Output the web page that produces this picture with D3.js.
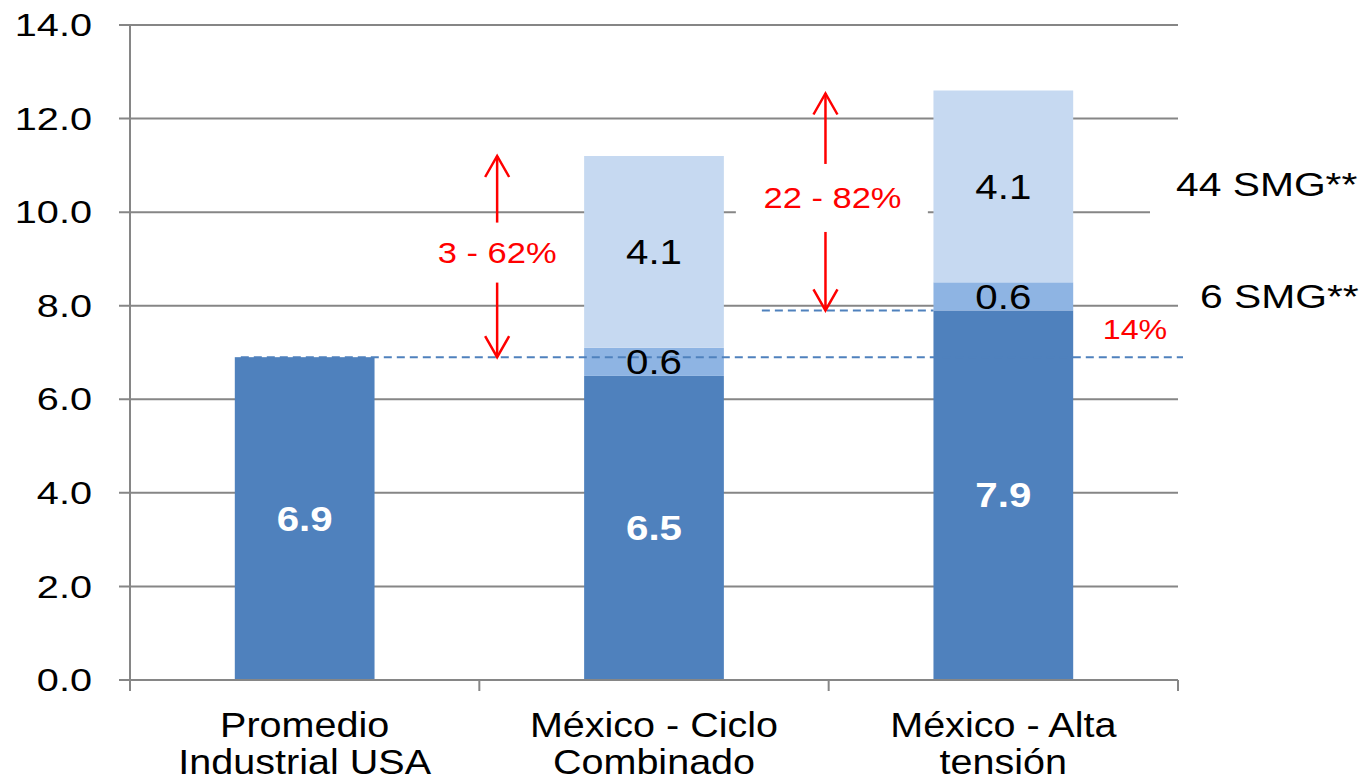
<!DOCTYPE html>
<html>
<head>
<meta charset="utf-8">
<script src="https://cdn.jsdelivr.net/npm/d3@7"></script>
<style>
  html, body { margin: 0; padding: 0; background: #fff; }
  svg { display: block; font-family: "Liberation Sans", Arial, sans-serif; }
</style>
</head>
<body>
<svg id="chart" width="1363" height="781"></svg>
<script>
// data
var categories = [["Promedio", "Industrial USA"], ["México - Ciclo", "Combinado"], ["México - Alta", "tensión"]];
var baseCost = [6.9, 6.5, 7.9];
var smg6Cost = [0, 0.6, 0.6];
var smg44Cost = [0, 4.1, 4.1];
var yTicks = [0, 2, 4, 6, 8, 10, 12, 14];
var rangeLabels = ["3 - 62%", "22 - 82%", "14%"];
var smgLabels = ["44 SMG**", "6 SMG**"];

var keys = ["base", "smg6", "smg44"];
var colors = { base: "#4F81BD", smg6: "#8EB4E3", smg44: "#C6D9F1" };
var rows = categories.map(function (c, i) {
  return { cat: i, base: baseCost[i], smg6: smg6Cost[i], smg44: smg44Cost[i] };
});

var svg = d3.select("#chart");
var plotL = 130, plotR = 1178, plotT = 25, plotB = 680;

var x = d3.scaleBand().domain(d3.range(categories.length)).range([plotL, plotR])
  .paddingInner(0.6).paddingOuter(0.3);
var step = x.step();
var y = d3.scaleLinear().domain([0, 14]).range([plotB, plotT]);

// text in the reference is stretched horizontally, so scale it a bit
function label(g, px, py, txt, anchor, sx) {
  return g.append("text")
    .attr("transform", "translate(" + px + "," + py + ") scale(" + (sx || 1.2) + ",1)")
    .attr("text-anchor", anchor || "middle")
    .attr("dy", "0.35em")
    .text(txt);
}

// gridlines
svg.append("g").selectAll("line").data(yTicks).join("line")
  .attr("x1", plotL - 11).attr("x2", plotR)
  .attr("y1", function (d) { return y(d); }).attr("y2", function (d) { return y(d); })
  .attr("stroke", "#868686").attr("stroke-width", 2);

// y axis line + labels
svg.append("line").attr("x1", plotL).attr("x2", plotL).attr("y1", plotT).attr("y2", plotB)
  .attr("stroke", "#868686").attr("stroke-width", 2);
var yl = svg.append("g").attr("font-size", 32).attr("fill", "#000");
yTicks.forEach(function (t) { label(yl, 92, y(t), d3.format(".1f")(t), "end", 1.24); });

// x axis ticks at band edges
var edges = d3.range(categories.length + 1).map(function (i) { return plotL + i * step; });
svg.append("g").selectAll("line").data(edges).join("line")
  .attr("x1", function (d) { return d; }).attr("x2", function (d) { return d; })
  .attr("y1", plotB).attr("y2", plotB + 11)
  .attr("stroke", "#868686").attr("stroke-width", 2);

// white boxes behind some annotations (they hide the gridlines)
var a2x = x(2) - 108;
svg.append("rect").attr("x", x(1) + x.bandwidth() + 12).attr("y", y(10) - 48)
  .attr("width", 192).attr("height", 62).attr("fill", "#fff");
svg.append("rect").attr("x", 1150).attr("y", y(10) - 30)
  .attr("width", 213).attr("height", 40).attr("fill", "#fff");

// stacked bars
var series = d3.stack().keys(keys)(rows);
var bars = svg.append("g");
series.forEach(function (s) {
  bars.selectAll(null).data(s).join("rect")
    .attr("x", function (d) { return x(d.data.cat); })
    .attr("width", x.bandwidth())
    .attr("y", function (d) { return y(d[1]); })
    .attr("height", function (d) { return y(d[0]) - y(d[1]); })
    .attr("fill", colors[s.key]);
});

// dashed reference lines
svg.append("line")
  .attr("x1", x(0) + 6).attr("x2", plotR + 5)
  .attr("y1", y(baseCost[0])).attr("y2", y(baseCost[0]))
  .attr("stroke", "#4F81BD").attr("stroke-width", 2).attr("stroke-dasharray", "8,5");
svg.append("line")
  .attr("x1", x(1) + x.bandwidth() + 38).attr("x2", x(2))
  .attr("y1", y(baseCost[2])).attr("y2", y(baseCost[2]))
  .attr("stroke", "#4F81BD").attr("stroke-width", 2).attr("stroke-dasharray", "8,5");

// segment labels
var segLabels = svg.append("g").attr("font-size", 35);
series.forEach(function (s) {
  s.forEach(function (d) {
    var v = d[1] - d[0];
    if (v <= 0) return;
    var t = label(segLabels, x(d.data.cat) + x.bandwidth() / 2, y((d[0] + d[1]) / 2), d3.format(".1f")(v), "middle", 1.15);
    if (s.key === "base") t.attr("fill", "#fff").attr("font-weight", "bold");
    else t.attr("fill", "#000");
  });
});

// double-headed red arrows with a gap for the label
function arrow(ax, yTop, yBot, gap, txt) {
  var mid = (yTop + yBot) / 2 - 4;
  var g = svg.append("g").attr("stroke", "#FF0000").attr("stroke-width", 2.5).attr("fill", "none");
  g.append("line").attr("x1", ax).attr("x2", ax).attr("y1", yTop).attr("y2", mid - gap);
  g.append("line").attr("x1", ax).attr("x2", ax).attr("y1", mid + gap).attr("y2", yBot);
  g.append("path").attr("d", "M" + (ax - 12) + "," + (yTop + 21) + "L" + ax + "," + yTop + "L" + (ax + 12) + "," + (yTop + 21));
  g.append("path").attr("d", "M" + (ax - 12) + "," + (yBot - 21) + "L" + ax + "," + yBot + "L" + (ax + 12) + "," + (yBot - 21));
  var tg = svg.append("g").attr("font-size", 30).attr("fill", "#FF0000");
  label(tg, ax + (txt.length > 7 ? 7 : 0), mid, txt, "middle", 1.15);
}
arrow(x(1) - 87, y(baseCost[1] + smg6Cost[1] + smg44Cost[1]), y(baseCost[0]), 30, rangeLabels[0]);
arrow(a2x, y(baseCost[2] + smg6Cost[2] + smg44Cost[2]) + 3, y(baseCost[2]), 34, rangeLabels[1]);

// 14% label
var pg = svg.append("g").attr("font-size", 28).attr("fill", "#FF0000");
label(pg, 1135, (y(baseCost[0]) + y(baseCost[2])) / 2 - 5, rangeLabels[2], "middle", 1.15);

// SMG labels on the right
var sg = svg.append("g").attr("font-size", 34).attr("fill", "#000");
label(sg, 1176, y(10.6), smgLabels[0], "start", 1.2);
label(sg, 1200, y(8.2), smgLabels[1], "start", 1.2);

// x category labels
var xl = svg.append("g").attr("font-size", 35).attr("fill", "#000");
categories.forEach(function (c, i) {
  var cx = x(i) + x.bandwidth() / 2;
  xl.append("text")
    .attr("transform", "translate(" + cx + ",737) scale(1.13,1)")
    .attr("text-anchor", "middle").text(c[0]);
  xl.append("text")
    .attr("transform", "translate(" + cx + ",774) scale(1.13,1)")
    .attr("text-anchor", "middle").text(c[1]);
});

// x axis line drawn last so it sits over the bar bottoms
svg.append("line").attr("x1", plotL - 11).attr("x2", plotR).attr("y1", plotB).attr("y2", plotB)
  .attr("stroke", "#868686").attr("stroke-width", 2);
</script>
</body>
</html>
